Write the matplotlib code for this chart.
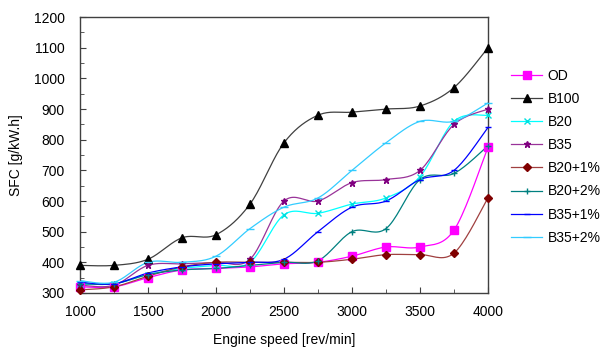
import numpy as np
import matplotlib
matplotlib.use("Agg")
import matplotlib.pyplot as plt
from matplotlib.ticker import MultipleLocator

plt.rcParams['font.family'] = ['Liberation Sans', 'DejaVu Sans']

# Engine speed points [rev/min]
speed = [1000, 1250, 1500, 1750, 2000, 2250, 2500, 2750, 3000, 3250, 3500, 3750, 4000]

# SFC values [g/kW.h]
od      = [320, 320, 350, 375, 380, 385, 395, 400, 420, 450, 450, 505, 775]
b100    = [390, 390, 410, 480, 490, 590, 790, 880, 890, 900, 910, 970, 1100]
b20     = [330, 330, 360, 380, 390, 400, 555, 560, 590, 610, 680, 860, 880]
b35     = [325, 325, 390, 395, 400, 410, 600, 600, 660, 670, 700, 850, 900]
b20_1   = [310, 320, 355, 385, 400, 400, 400, 400, 410, 425, 425, 430, 610]
b20_2   = [330, 330, 360, 375, 380, 390, 400, 405, 500, 510, 670, 690, 780]
b35_1   = [335, 330, 365, 385, 395, 400, 410, 500, 580, 600, 670, 700, 840]
b35_2   = [340, 335, 400, 400, 420, 510, 580, 610, 700, 790, 860, 860, 920]

series_names = ['OD', 'B100', 'B20', 'B35', 'B20+1%', 'B20+2%', 'B35+1%', 'B35+2%']
series_vals = [od, b100, b20, b35, b20_1, b20_2, b35_1, b35_2]

# style per series: line colour, marker, marker colour, marker size
styles = [
    ('#FF00FF', 's', '#FF00FF', 5.5),
    ('#404040', '^', '#000000', 6),
    ('#00FFFF', 'x', '#00E0E0', 4),
    ('#993399', '*', '#800080', 4.5),
    ('#A04040', 'D', '#800000', 4),
    ('#008080', '+', '#008080', 5),
    ('#0000FF', '_', '#0000FF', 5),
    ('#33CCFF', '_', '#33CCFF', 6),
]


def smooth(x, y, n=20):
    # Excel-like smoothed line (Catmull-Rom style bezier)
    x = np.asarray(x, float)
    y = np.asarray(y, float)
    px = np.concatenate([[x[0]], x, [x[-1]]])
    py = np.concatenate([[y[0]], y, [y[-1]]])
    xs, ys = [], []
    t = np.linspace(0, 1, n)
    for i in range(1, len(px) - 2):
        p0 = np.array([px[i], py[i]])
        p3 = np.array([px[i + 1], py[i + 1]])
        c1 = p0 + (np.array([px[i + 1], py[i + 1]]) - np.array([px[i - 1], py[i - 1]])) / 6
        c2 = p3 - (np.array([px[i + 2], py[i + 2]]) - np.array([px[i], py[i]])) / 6
        b = ((1 - t) ** 3)[:, None] * p0 + (3 * (1 - t) ** 2 * t)[:, None] * c1 \
            + (3 * (1 - t) * t ** 2)[:, None] * c2 + (t ** 3)[:, None] * p3
        xs.extend(b[:, 0])
        ys.extend(b[:, 1])
    return xs, ys


fig = plt.figure(figsize=(6.08, 3.5), dpi=100)
ax = fig.add_axes([0.1316, 0.163, 0.671, 0.788])

handles = []
for name, vals, (lc, mk, mc, ms) in zip(series_names, series_vals, styles):
    sx, sy = smooth(speed, vals)
    ax.plot(sx, sy, color=lc, lw=0.9)
    ax.plot(speed, vals, linestyle='none', marker=mk, color=mc, ms=ms,
            mew=1.0, clip_on=False, zorder=3)
    h, = ax.plot([], [], color=lc, lw=0.9, marker=mk, mfc=mc, mec=mc, ms=ms)
    handles.append(h)

ax.set_xlim(1000, 4000)
ax.set_ylim(300, 1200)
ax.set_xticks([1000, 1500, 2000, 2500, 3000, 3500, 4000])
ax.xaxis.set_minor_locator(MultipleLocator(250))
ax.yaxis.set_major_locator(MultipleLocator(100))
ax.yaxis.set_minor_locator(MultipleLocator(50))
ax.tick_params(which='both', direction='in', color='#404040', labelsize=10)
ax.tick_params(which='major', length=4)
ax.tick_params(which='minor', length=3)
ax.tick_params(axis='x', pad=9)
ax.tick_params(axis='y', pad=11)
for s in ax.spines.values():
    s.set_color('#404040')
    s.set_linewidth(1.0)

ax.set_xlabel('Engine speed [rev/min]', fontsize=10, labelpad=10)
ax.set_ylabel('SFC [g/kW.h]', fontsize=10, labelpad=8)

fig.legend(handles=handles, labels=series_names, loc='upper left',
           bbox_to_anchor=(0.832, 0.82), frameon=False, fontsize=10,
           handlelength=2.2, handletextpad=0.4, labelspacing=0.66,
           borderaxespad=0)

fig.savefig('out.png', dpi=100)
